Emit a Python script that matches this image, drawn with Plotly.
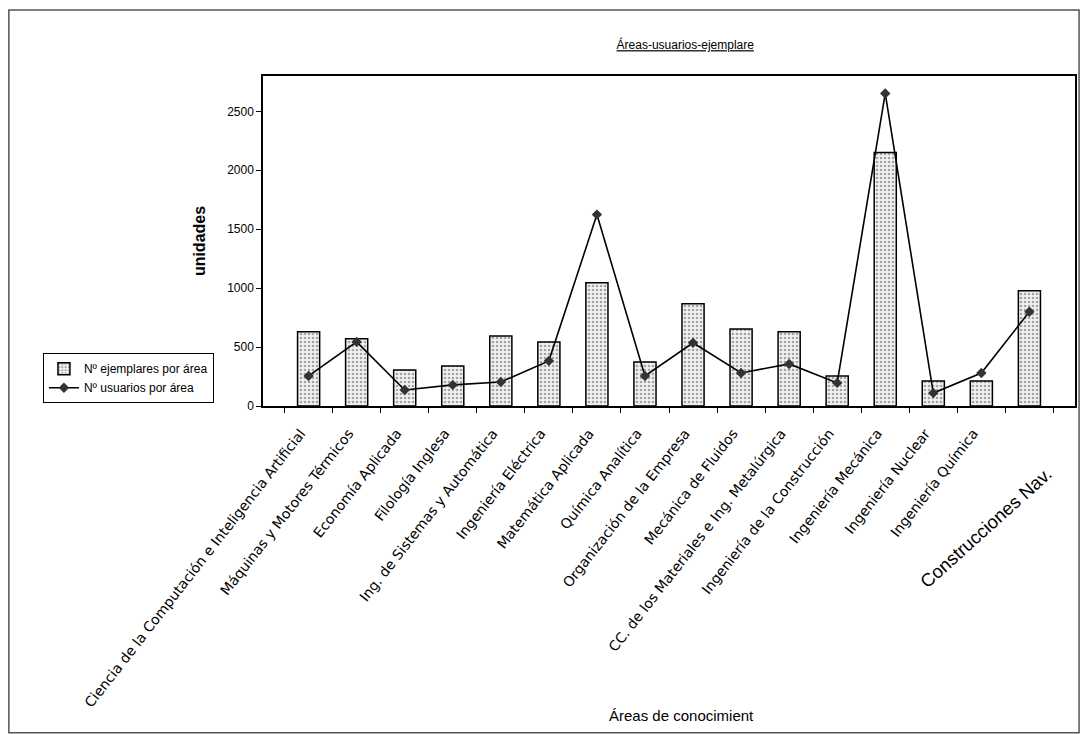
import plotly.graph_objects as go

categorias = [
    "Ciencia de la Computación e Inteligencia Artificial",
    "Máquinas y Motores Térmicos",
    "Economía Aplicada",
    "Filología Inglesa",
    "Ing. de Sistemas y Automática",
    "Ingeniería Eléctrica",
    "Matemática Aplicada",
    "Química Analítica",
    "Organización de la Empresa",
    "Mecánica de Fluidos",
    "CC. de los Materiales e Ing. Metalúrgica",
    "Ingeniería de la Construcción",
    "Ingeniería Mecánica",
    "Ingeniería Nuclear",
    "Ingeniería Química",
    "Construcciones Nav.",
]
ejemplares = [629, 570, 306, 340, 595, 544, 1046, 374, 867, 654, 629, 255, 2150, 213, 213, 977]
usuarios = [255, 544, 136, 179, 204, 383, 1624, 255, 536, 280, 357, 196, 2652, 110, 280, 800]
y_ticks = [0, 500, 1000, 1500, 2000, 2500]

# last label is drawn larger and at a gentler angle, as in the original
ticktext = categorias[:-1] + [""]

FONT = "Liberation Sans, Arial, sans-serif"

fig = go.Figure()
fig.add_trace(go.Bar(
    x=categorias, y=ejemplares, name="Nº ejemplares por área",
    marker=dict(color="white", line=dict(color="black", width=1.5),
                pattern=dict(shape=".", size=4, solidity=0.35, fgcolor="#555555", bgcolor="#f2f2f2")),
))
fig.add_trace(go.Scatter(
    x=categorias, y=usuarios, name="Nº usuarios por área", mode="lines+markers",
    line=dict(color="black", width=1.6),
    marker=dict(symbol="diamond", size=8, color="#333333"),
))

fig.update_layout(
    width=1081, height=726,
    margin=dict(l=255, r=12, t=68, b=328),
    paper_bgcolor="white", plot_bgcolor="white",
    font=dict(family=FONT, color="black", size=11),
    bargap=0.54,
    showlegend=True,
    title=dict(text="<u>Áreas-usuarios-ejemplare</u>", xref="paper", x=0.52, xanchor="center",
               y=0.949, yanchor="middle", font=dict(size=12, family=FONT)),
    legend=dict(x=-0.271, y=0.16, xanchor="left", yanchor="top",
                bordercolor="black", borderwidth=1, bgcolor="white",
                font=dict(size=12), tracegroupgap=2),
    xaxis=dict(
        tickmode="array", tickvals=categorias, ticktext=ticktext,
        tickangle=-52, tickson="boundaries", ticks="outside", ticklen=5,
        tickcolor="black", showline=True, linecolor="black", linewidth=1.5,
        mirror=True, tickfont=dict(size=14, family="DejaVu Sans"),
        ticklabelstandoff=12, ticklabelshift=-8,
    ),
    yaxis=dict(
        range=[0, 2800], tickvals=y_ticks, ticks="outside", ticklen=5,
        tickcolor="black", showline=True, linecolor="black", linewidth=1.5,
        mirror=True, showgrid=False, zeroline=False, tickfont=dict(size=12),
        title=dict(text="<b>unidades</b>", font=dict(size=16), standoff=18),
    ),
)

# larger last category label
fig.add_annotation(x=categorias[-1], y=0, xref="x", yref="y",
                   text=categorias[-1], showarrow=False, textangle=-42,
                   xanchor="right", yanchor="top", xshift=29, yshift=-54,
                   font=dict(size=18.5, family=FONT))

# x-axis title
fig.add_annotation(x=0.516, y=-0.939, xref="paper", yref="paper",
                   text="Áreas de conocimient", showarrow=False,
                   xanchor="center", yanchor="middle", font=dict(size=15, family=FONT))

# outer frame
fig.add_shape(type="rect", xref="paper", yref="paper",
              x0=-0.313, x1=1.005, y0=-0.99, y1=1.2,
              line=dict(color="#555555", width=1.5), fillcolor="rgba(0,0,0,0)")

fig.write_html("out.html")
